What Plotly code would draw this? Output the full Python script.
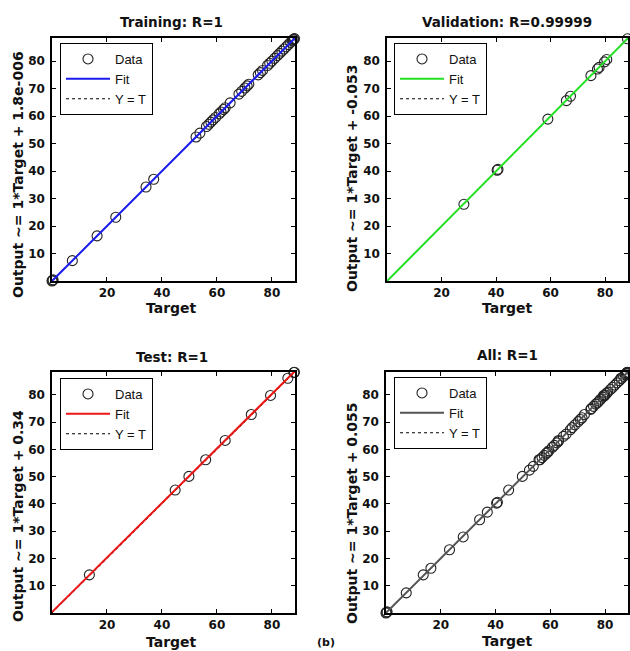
import plotly.graph_objects as go

# ---------------- data ----------------
train_target = [0.0, 0.2, 0.4, 7.4, 16.4, 23.2, 34.2, 37.0, 52.4, 53.8, 56.2, 57.0, 57.8,
                58.6, 59.5, 60.8, 61.5, 62.4, 63.0, 64.8, 68.0, 69.0, 70.2, 71.0, 71.6,
                75.0, 75.8, 76.6, 78.4, 79.2, 80.0, 81.0, 82.0, 82.8, 83.6, 84.4, 85.2,
                86.0, 86.8, 87.4, 87.8, 88.0, 88.2]
train_output = list(train_target)

val_target = [28.2, 40.4, 40.7, 59.0, 65.8, 67.3, 74.8, 77.2, 77.8, 79.8, 80.6, 88.2]
val_output = [27.9, 40.3, 40.6, 58.9, 65.6, 67.2, 74.7, 77.1, 77.7, 79.7, 80.6, 88.1]

test_target = [13.6, 44.8, 49.8, 55.9, 63.0, 72.5, 79.5, 85.8, 88.0, 88.2]
test_output = [14.0, 45.1, 50.1, 56.2, 63.3, 72.8, 79.8, 86.1, 88.2, 88.3]

all_target = train_target + val_target + test_target
all_output = train_output + val_output + test_output

titles = ["Training: R=1", "Validation: R=0.99999", "Test: R=1", "All: R=1"]
y_labels = ["Output ~= 1*Target + 1.8e-006", "Output ~= 1*Target + -0.053",
            "Output ~= 1*Target + 0.34", "Output ~= 1*Target + 0.055"]
fit_slopes = [1.0, 1.0, 1.0, 1.0]
fit_offsets = [1.8e-6, -0.053, 0.34, 0.055]
x_label = "Target"
legend_names = ["Data", "Fit", "Y = T"]
x_ticks = [20, 40, 60, 80]
y_ticks = [10, 20, 30, 40, 50, 60, 70, 80]
axis_range = [0, 88.4]
fig_label = "(b)"

# ---------------- styling / layout ----------------
W, H = 630, 651
fit_colors = ["#1a1aee", "#22e022", "#ee1515", "#555555"]
# axes boxes in pixels: (left, right, top, bottom)
boxes = [(52, 295, 38, 281), (387, 628, 38, 281), (52, 295, 372, 613), (386, 628, 372, 613)]
title_pos = [(172, 22), (507, 22), (172, 357), (507, 355)]
xlab_pos = [(172, 308), (507, 308), (172, 642), (507, 641)]
ylab_pos = [(18, 175), (352, 179), (18, 516), (352, 513)]
legend_pos = [(60, 43), (394, 43), (60, 378), (394, 377)]

def px(x):
    return x / W

def py(y):
    return 1 - y / H

datasets = [(train_target, train_output), (val_target, val_output),
            (test_target, test_output), (all_target, all_output)]

fig = go.Figure()
bold = dict(family="DejaVu Sans", color="#111111", weight="bold")

for i, (tx, ty) in enumerate(datasets):
    n = i + 1
    xa = "x" if n == 1 else f"x{n}"
    ya = "y" if n == 1 else f"y{n}"
    lg = "legend" if n == 1 else f"legend{n}"
    line_x = list(axis_range)
    fit_y = [fit_slopes[i] * v + fit_offsets[i] for v in line_x]
    fig.add_trace(go.Scatter(
        x=tx, y=ty, mode="markers", name=legend_names[0], xaxis=xa, yaxis=ya, legend=lg,
        legendrank=1,
        marker=dict(symbol="circle-open", size=10, color="#222222", line=dict(width=1.1)),
        cliponaxis=False))
    fig.add_trace(go.Scatter(
        x=line_x, y=line_x, mode="lines", name=legend_names[2], xaxis=xa, yaxis=ya, legend=lg,
        legendrank=3,
        line=dict(color="#000000", width=1, dash="dot")))
    fig.add_trace(go.Scatter(
        x=line_x, y=fit_y, mode="lines", name=legend_names[1], xaxis=xa, yaxis=ya, legend=lg,
        legendrank=2,
        line=dict(color=fit_colors[i], width=2)))

    l, r, t, b = boxes[i]
    axis_common = dict(range=axis_range, showgrid=False, zeroline=False, showline=True,
                       linecolor="black", linewidth=1.5, mirror="ticks", ticks="inside",
                       ticklen=4, tickcolor="black",
                       tickfont=dict(family="DejaVu Sans", size=12, color="#111111", weight="bold"))
    fig.layout[f"xaxis{n if n > 1 else ''}"] = dict(
        domain=[px(l), px(r)], anchor=ya, tickvals=x_ticks, **axis_common)
    fig.layout[f"yaxis{n if n > 1 else ''}"] = dict(
        domain=[py(b), py(t)], anchor=xa, tickvals=y_ticks, ticklabelstandoff=3, **axis_common)

    lx, ly = legend_pos[i]
    fig.layout[lg] = dict(x=px(lx), y=py(ly), xanchor="left", yanchor="top",
                          bordercolor="black", borderwidth=1, bgcolor="white",
                          font=dict(family="Liberation Sans", size=13, color="#111111"),
                          tracegroupgap=0, itemwidth=44)

    tx_, ty_ = title_pos[i]
    fig.add_annotation(text=titles[i], x=px(tx_), y=py(ty_), xref="paper", yref="paper",
                       xanchor="center", yanchor="middle", showarrow=False,
                       font=dict(size=13.5, **bold))
    xx, xy = xlab_pos[i]
    fig.add_annotation(text=x_label, x=px(xx), y=py(xy), xref="paper", yref="paper",
                       xanchor="center", yanchor="middle", showarrow=False,
                       font=dict(size=14, **bold))
    yx, yy = ylab_pos[i]
    fig.add_annotation(text=y_labels[i], x=px(yx), y=py(yy), xref="paper", yref="paper",
                       xanchor="center", yanchor="middle", showarrow=False, textangle=-90,
                       font=dict(size=14, **bold))

fig.add_annotation(text=fig_label, x=px(326), y=0, xref="paper", yref="paper",
                   xanchor="center", yanchor="bottom", showarrow=False,
                   font=dict(family="DejaVu Sans", size=11, color="#111111", weight="bold"))

fig.update_layout(width=W, height=H, margin=dict(l=0, r=0, t=0, b=0),
                  paper_bgcolor="white", plot_bgcolor="white", showlegend=True)

fig.write_html("out.html")
